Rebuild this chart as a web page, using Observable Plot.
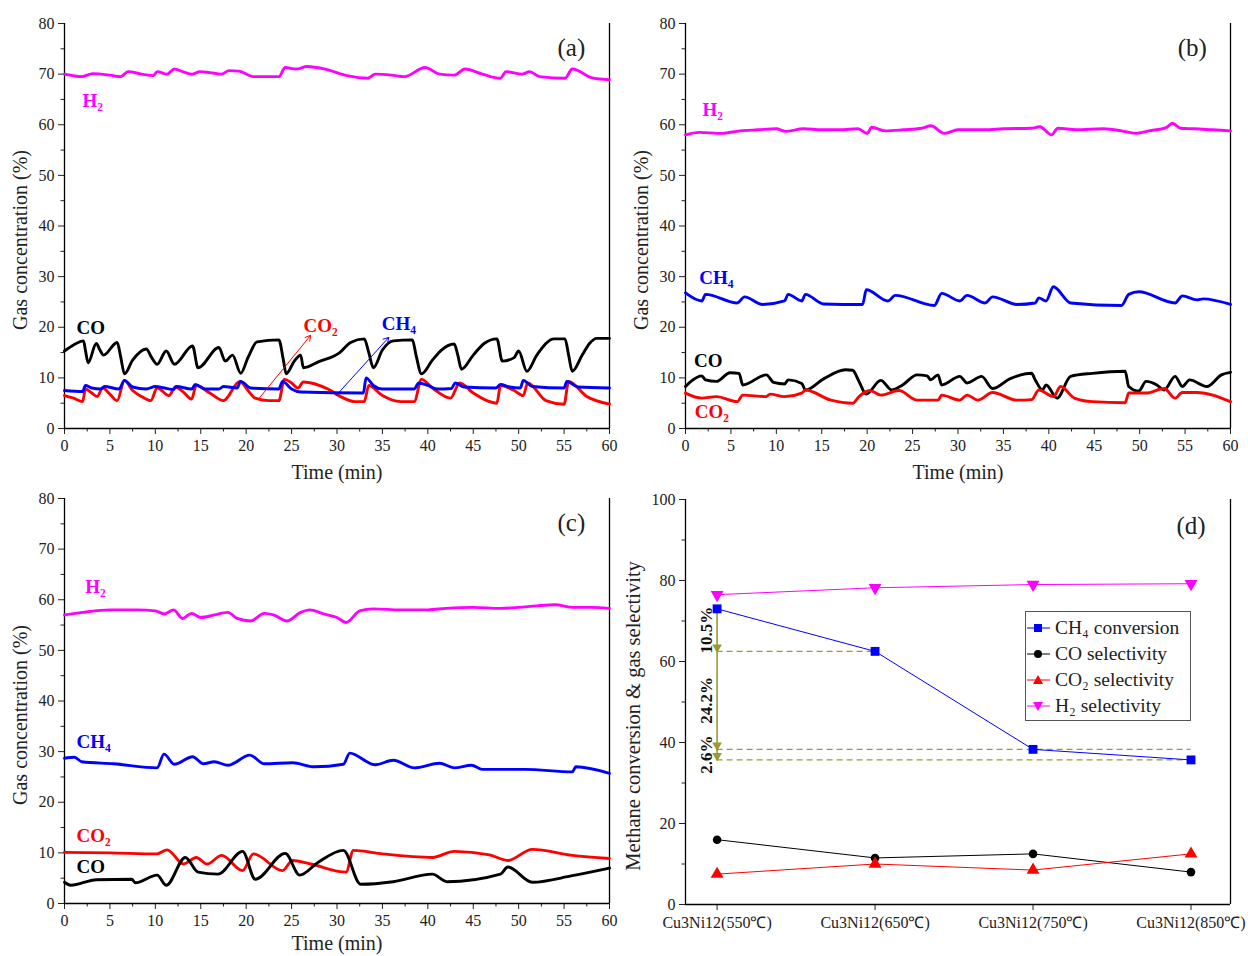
<!DOCTYPE html>
<html><head><meta charset="utf-8">
<script src="https://cdn.jsdelivr.net/npm/d3@7"></script>
<script src="https://cdn.jsdelivr.net/npm/@observablehq/plot@0.6"></script>
<style>
body{margin:0;background:#fff;}
#wrap{position:relative;width:1248px;height:956px;background:#fff;font-family:"Liberation Serif","Times New Roman",serif;overflow:hidden;}
.panel{position:absolute;}
#legend{position:absolute;left:1025px;top:611px;width:166px;height:110px;border:1px solid #555;box-sizing:border-box;background:#fff;padding-top:3px;}
.row{display:flex;align-items:center;height:26px;font-size:19.5px;color:#222;white-space:nowrap;}
.row svg{margin-right:3px;flex:none;}
</style></head><body><div id="wrap"></div>
<script>
// ---------- Panel (a) : time series, [time (min), concentration (%)] ----------
const a_H2 = [[0,70],[1.9,69.5],[3.1,70.1],[5,69.8],[6.2,69.5],[7,70.5],[8.5,70],[9.8,69.7],[10.2,70.5],[11.3,70],[12.1,71],[13,70.5],[14.1,70],[14.9,70.5],[16,70.3],[17.3,70],[18.1,70.7],[19.2,70.6],[20.8,69.5],[23.6,69.5],[24.3,71.3],[25.5,71],[26.7,71.5],[28.7,71],[31.1,69.7],[33.4,69.2],[34.2,70],[36,69.8],[37.4,69.5],[39.7,71.3],[41.3,70],[42.9,69.8],[44.1,71],[46,70],[48,69.2],[48.6,70.5],[50.4,70],[51.2,70.5],[52.3,69.5],[55.1,69.2],[55.9,71],[58.2,69.2],[60,68.9]];
const a_CO = [[0,15.3],[1,16.5],[2.1,17.3],[2.3,15.5],[2.6,13],[3.5,16.8],[3.9,15.5],[4.3,14.5],[5.8,17],[6.2,14],[6.6,10.8],[7.5,13.5],[9,15.7],[9.6,14],[10.2,12.7],[11.2,15.3],[12.1,12.7],[14.1,16.3],[14.7,12],[17,16],[17.7,13.3],[18.5,14.5],[19.4,10.9],[20.2,14],[21.2,17.1],[23.6,17.5],[24.1,13.5],[24.4,10.8],[25.3,13.3],[26,14.5],[26.3,12],[28,13.2],[30.3,15],[31.5,17],[33,17.7],[33.5,15],[34,12],[35,15.5],[36.2,17.3],[38.3,17.5],[38.7,14.5],[39.3,10.8],[40.5,13.5],[41.5,15.5],[42.9,16.7],[43.3,14.5],[43.7,11.7],[45,14.5],[46.2,16.8],[47.6,17.7],[48.2,13.3],[49.5,14],[50,15.3],[50.9,11.3],[52,14.5],[53.9,17.7],[55.1,17.7],[55.5,14.5],[55.9,11.3],[57,14.5],[57.8,16.8],[58.6,17.8],[60,17.8]];
const a_CO2 = [[0,6.5],[1,6],[2,5.3],[2.3,7.8],[3,7],[3.6,6.3],[4.2,8],[5,6.8],[5.8,5.5],[6.6,9.5],[7.5,7.5],[8.5,6.3],[9.5,5.5],[10.2,8],[11.5,6.5],[12.2,8.2],[13.2,7],[14,5.8],[14.5,8.5],[16,7],[17.5,5.5],[19.3,9.3],[20.2,7.5],[21,6],[22.5,5.5],[23.6,5.5],[24.2,9.7],[25,9],[25.7,8],[26.3,9.2],[29,7.8],[30.5,6.2],[32,5.3],[33,5.3],[33.5,8.5],[35,6.5],[37,5.3],[38.5,5.3],[39.3,9.7],[40.5,8],[42.5,6],[43.5,9],[45,7],[46.5,5.5],[47.6,5],[48,8.5],[49.5,7.5],[50.5,6.5],[51,9],[53,5.5],[55,4.8],[55.5,9.3],[57.5,6.3],[60,4.8]];
const a_CH4 = [[0,7.5],[2,7.3],[2.3,8.5],[3,8],[4,7.8],[4.4,8.3],[6,7.8],[6.6,9.5],[7.5,8.2],[9,7.8],[10,8.3],[11,8],[12,7.7],[12.3,8.3],[14,7.8],[14.4,8.7],[15.5,7.8],[17,7.8],[17.5,8.3],[19,8],[19.4,9.3],[20.5,8],[23.6,7.8],[24,9.3],[25,7.8],[26,7.2],[32.9,7],[33.2,10],[34,8.5],[35,7.8],[38.5,7.8],[39,9],[40,8.5],[41,7.8],[42.6,7.9],[43,9],[44,8.2],[47.5,8],[48,8.7],[49,8.2],[50.2,8],[50.5,9.5],[51.5,8.3],[55,8],[55.3,9.3],[56.5,8.2],[60,8]];
// annotation arrows in (a): [t1, v1, t2, v2]
const a_arrowCO2 = [21.4, 5.9, 27.1, 18.4];
const a_arrowCH4 = [29.9, 6.5, 35.7, 18.0];

// ---------- Panel (b) ----------
const b_H2 = [[0,58],[1.5,58.5],[4,58.3],[6,58.8],[8,59],[10,59.2],[11,58.7],[13,59.2],[15,59],[17,59],[19,59.2],[20,58.3],[20.5,59.5],[22,58.8],[24,59],[26,59.3],[27,59.8],[28.5,58.3],[30,59],[33,59],[35,59.2],[38,59.3],[39,59.6],[40.3,58],[41,59.3],[43,59],[46,59.2],[48,58.8],[49.5,58.3],[51,58.8],[53,59.5],[53.6,60.3],[54.5,59.3],[56,59.2],[58,59],[60,58.8]];
const b_CH4 = [[0,26.8],[1.8,25.2],[2.2,26.5],[5.7,24.8],[6.5,26],[8.5,24.5],[10.9,25.2],[11.3,26.5],[12.8,25.2],[13.2,26.5],[15.2,24.6],[19.5,24.5],[19.9,27.4],[22.3,25.2],[23.1,26.3],[27.4,24.3],[28.2,26.7],[30.2,25.2],[31,26.3],[33,24.8],[33.8,26],[36.5,24.5],[38.5,24.8],[38.9,25.8],[39.7,25.2],[40.5,28],[42.4,24.8],[48,24.3],[48.8,26.5],[49.9,27],[53.9,24.8],[54.7,26.2],[56.3,25.4],[57,25.6],[60,24.5]];
const b_CO = [[0,8.3],[0.6,9.3],[1.8,10.4],[2.2,9.6],[3.4,9.3],[4.9,11],[5.9,10.9],[6.3,8.6],[8.9,10.6],[9.7,9.1],[10.9,8.8],[11.3,9.6],[12.8,8.9],[13.2,7.6],[15.2,9.8],[17.6,11.6],[18.4,11.5],[19.1,9.3],[19.9,6.8],[21.5,9.5],[22.7,7.6],[23.9,8.6],[25.5,10.6],[26.6,10.4],[27,9.6],[27.8,10.6],[28.2,8.6],[30.2,10.3],[31,9],[32.6,10.3],[33.8,7.9],[35.7,9.8],[38.1,10.9],[38.5,9.6],[39.3,7.6],[39.7,8.6],[40.9,6],[42.4,10.3],[44.8,10.9],[48.4,11.3],[48.8,8.3],[49.9,7.4],[50.7,9.3],[51.9,8.6],[52.7,7.6],[53.9,10.3],[54.7,8.3],[55.5,9.6],[57.4,8.3],[59,10.6],[60,11.1]];
const b_CO2 = [[0,7],[1.8,6],[3.4,6.3],[5.7,5.3],[6.3,6.6],[8.9,6.3],[9.3,6.8],[10.9,6.3],[12.8,7],[13.2,7.6],[16,5.6],[18.4,5],[19.1,6.3],[20.3,7.5],[21.5,6.6],[23.5,7.5],[25.5,5.6],[27.8,5.6],[28.2,6.6],[30.2,5.6],[31,6.6],[32.2,5.6],[33.8,7.1],[36.5,5.6],[38.1,5.7],[38.9,7.6],[40.5,6.3],[41.3,8.3],[42.8,6],[44.8,5.3],[48.4,5.1],[48.8,7],[50.7,7],[52.7,7.9],[53.9,6],[54.7,7.1],[56.3,7.1],[60,5.3]];

// ---------- Panel (c) ----------
const c_H2 = [[0,57],[2,57.5],[5,58],[8,58],[10,57.8],[11,57.2],[12,58],[13,56.3],[14,57.3],[15,56.5],[16.5,57],[18,57.5],[19,56.3],[20.5,55.8],[22,57.3],[23,57],[24.5,55.8],[26,57.5],[27,58],[28.5,57.2],[30,56.5],[31,55.5],[32.5,57.8],[34,58.2],[37,58],[40,58],[42,58.3],[45,58.5],[48,58.3],[50,58.5],[52,58.8],[54,59],[56,58.5],[58,58.5],[60,58.3]];
const c_CH4 = [[0,28.7],[1.1,28.9],[1.9,28],[5.4,27.6],[10.2,26.8],[10.95,29.5],[12.1,27.5],[14.1,29],[15.3,27.6],[16.5,28],[18,27.3],[20.4,29.3],[22,27.6],[25.1,27.8],[27.5,27],[30.7,27.5],[31.4,29.7],[34.2,27.4],[36.2,28.3],[38.5,26.8],[41.3,27.7],[42.9,26.8],[44.8,27.3],[46,26.5],[50.7,26.5],[55.9,26],[56.3,27],[60,25.7]];
const c_CO2 = [[0,10.1],[5,10],[10.2,9.8],[11.3,10.6],[13.1,7.8],[14.5,9.1],[15.7,7.8],[17.3,9.5],[19.6,6.5],[20.8,9.8],[24,6.5],[25.1,8.5],[27.1,7.8],[31,6.2],[31.8,10.5],[35,9.8],[40.5,9.1],[42.9,10.3],[46.8,9.6],[48.8,8.5],[51.5,10.7],[55.9,9.5],[60,8.9]];
const c_CO = [[0,4.2],[0.7,3.6],[3.5,4.7],[7.4,4.8],[7.8,4.1],[10.2,5.6],[11.2,3.6],[13.3,9.1],[14.7,6.2],[16.9,5.8],[19.6,10.3],[21,4.8],[24.3,9.9],[25.9,5.6],[27.9,8.1],[30.7,10.5],[32.6,3.8],[36.2,4.3],[40.5,5.8],[42.1,4.3],[48,5.8],[48.8,7.2],[51.5,4.2],[55.9,5.5],[60,7]];

// ---------- Panel (d) ----------
const d_cats = ["Cu3Ni12(550℃)","Cu3Ni12(650℃)","Cu3Ni12(750℃)","Cu3Ni12(850℃)"];
const d_CH4conv = [73.0, 62.5, 38.3, 35.7];
const d_COsel = [16.0, 11.5, 12.5, 8.0];
const d_CO2sel = [7.5, 10.0, 8.5, 12.5];
const d_H2sel = [76.5, 78.2, 79.0, 79.2];

// ---------- tick labels ----------
const timeTicks = d3.range(0, 61, 5);
const timeMinor = d3.range(2.5, 60, 5);
const concTicks = d3.range(0, 81, 10);
const concMinor = d3.range(5, 80, 10);
const pctTicks = d3.range(0, 101, 20);
const pctMinor = d3.range(10, 100, 20);

const colors = {H2:"#ff00ff", CO:"#000000", CO2:"#ff0000", CH4:"#0000ff"};
const olive = "#9a9a2e";
const FONT = '"Liberation Serif","Times New Roman",serif';
const toRows = pts => pts.map(([t, v]) => ({t, v}));

const wrap = document.getElementById("wrap");
function place(svg, left, top) {
  const d = document.createElement("div");
  d.className = "panel"; d.style.left = left + "px"; d.style.top = top + "px";
  d.appendChild(svg); wrap.appendChild(d);
}

function timePanel(cfg) {
  const marks = [
    Plot.axisY({ticks: concTicks, tickSize: 6, tickPadding: 4, fontSize: 16, label: null}),
    Plot.axisY({ticks: concMinor, tickSize: 3.5, tickFormat: () => "", label: null}),
    Plot.axisX({ticks: timeTicks, tickSize: 6, tickPadding: 5, fontSize: 16, label: null}),
    Plot.axisX({ticks: timeMinor, tickSize: 3.5, tickFormat: () => "", label: null}),
    Plot.ruleX([0, 60], {stroke: "#000", strokeWidth: 1.3}),
    Plot.ruleY([0], {stroke: "#000", strokeWidth: 1.3}),
  ];
  for (const [name, pts] of cfg.series) {
    marks.push(Plot.line(toRows(pts), {x: "t", y: "v", curve: "monotone-x", stroke: colors[name], strokeWidth: 2.9, strokeLinejoin: "round"}));
  }
  for (const [text, name, t, v] of cfg.labels) {
    marks.push(Plot.text([text], {x: () => t, y: () => v, text: d => d, fill: colors[name], fontWeight: "bold", fontSize: 19}));
  }
  for (const [name, a] of (cfg.arrows || [])) {
    marks.push(Plot.arrow([a], {x1: d => d[0], y1: d => d[1], x2: d => d[2], y2: d => d[3], stroke: colors[name], strokeWidth: 1, headLength: 9}));
  }
  marks.push(Plot.text([cfg.tag], {x: () => 55.8, y: () => 75.2, text: d => d, fontSize: 25}));
  marks.push(Plot.text(["Gas concentration (%)"], {frameAnchor: "left", textAnchor: "middle", lineAnchor: "middle", dx: -44, dy: 14, rotate: -90, fontSize: 20}));
  marks.push(Plot.text(["Time (min)"], {frameAnchor: "bottom", textAnchor: "middle", lineAnchor: "middle", dy: cfg.titleDy, fontSize: 20}));
  return Plot.plot({
    width: 624, height: 481, marginLeft: 64, marginRight: 15, marginTop: 23, marginBottom: 53,
    x: {domain: [0, 60]}, y: {domain: [0, 80]},
    style: {fontFamily: FONT, fontSize: "16px", color: "#222", background: "transparent", overflow: "visible"},
    marks
  });
}

place(timePanel({
  series: [["H2", a_H2], ["CO", a_CO], ["CO2", a_CO2], ["CH4", a_CH4]],
  labels: [["H₂", "H2", 3.1, 64.8], ["CO", "CO", 2.9, 19.8], ["CO₂", "CO2", 28.2, 20.3], ["CH₄", "CH4", 36.8, 20.7]],
  arrows: [["CO2", a_arrowCO2], ["CH4", a_arrowCH4]],
  tag: "(a)", titleDy: 44
}), 0, 0);

place(timePanel({
  series: [["H2", b_H2], ["CH4", b_CH4], ["CO", b_CO], ["CO2", b_CO2]],
  labels: [["H₂", "H2", 3.0, 63.0], ["CH₄", "CH4", 3.4, 29.8], ["CO", "CO", 2.5, 13.4], ["CO₂", "CO2", 2.9, 3.2]],
  tag: "(b)", titleDy: 44
}), 621, 0);

place(timePanel({
  series: [["H2", c_H2], ["CH4", c_CH4], ["CO2", c_CO2], ["CO", c_CO]],
  labels: [["H₂", "H2", 3.4, 62.5], ["CH₄", "CH4", 3.2, 31.9], ["CO₂", "CO2", 3.2, 13.4], ["CO", "CO", 2.9, 7.3]],
  tag: "(c)", titleDy: 40
}), 0, 475);

// ---------- panel (d) ----------
(function () {
  const rows = vals => vals.map((v, i) => ({i, v}));
  const dashes = [{v: d_CH4conv[1], x2: 1}, {v: d_CH4conv[2], x2: 3}, {v: d_CH4conv[3], x2: 3}];
  const segs = d3.range(3).map(k => ({
    y1: d_CH4conv[k], y2: d_CH4conv[k + 1], mid: (d_CH4conv[k] + d_CH4conv[k + 1]) / 2,
    label: (d_CH4conv[k] - d_CH4conv[k + 1]).toFixed(1) + "%"
  }));
  const svg = Plot.plot({
    width: 624, height: 478, marginLeft: 64, marginRight: 15, marginTop: 23, marginBottom: 50,
    x: {domain: [-0.2, 3.25]}, y: {domain: [0, 100]},
    style: {fontFamily: FONT, fontSize: "16px", color: "#222", background: "transparent", overflow: "visible"},
    marks: [
      Plot.axisY({ticks: pctTicks, tickSize: 6, tickPadding: 4, fontSize: 16, label: null}),
      Plot.axisY({ticks: pctMinor, tickSize: 3.5, tickFormat: () => "", label: null}),
      Plot.axisX({ticks: [0, 1, 2, 3], tickSize: 6, tickPadding: 6, fontSize: 16, tickFormat: i => d_cats[i], label: null}),
      Plot.ruleX([-0.2, 3.25], {stroke: "#000", strokeWidth: 1.3}),
      Plot.ruleY([0], {stroke: "#000", strokeWidth: 1.3}),
      Plot.ruleY(dashes, {y: "v", x1: () => 0, x2: "x2", stroke: olive, strokeWidth: 1.2, strokeDasharray: "6,4"}),
      Plot.ruleX(segs, {x: () => 0, y1: "y1", y2: "y2", stroke: olive, strokeWidth: 1.6}),
      Plot.dot(segs, {x: () => 0, y: "y2", dy: -4, symbol: "triangle", rotate: 180, r: 3.6, fill: olive}),
      Plot.text(segs, {x: () => 0, y: "mid", text: "label", rotate: -90, dx: -11, fontWeight: "bold", fontSize: 17, fill: "#111"}),
      Plot.line(rows(d_H2sel), {x: "i", y: "v", stroke: colors.H2, strokeWidth: 1}),
      Plot.line(rows(d_CH4conv), {x: "i", y: "v", stroke: colors.CH4, strokeWidth: 1}),
      Plot.line(rows(d_COsel), {x: "i", y: "v", stroke: colors.CO, strokeWidth: 1}),
      Plot.line(rows(d_CO2sel), {x: "i", y: "v", stroke: colors.CO2, strokeWidth: 1}),
      Plot.dot(rows(d_H2sel), {x: "i", y: "v", symbol: "triangle", rotate: 180, r: 4.8, fill: colors.H2}),
      Plot.dot(rows(d_CH4conv), {x: "i", y: "v", symbol: "square", r: 5, fill: colors.CH4}),
      Plot.dot(rows(d_COsel), {x: "i", y: "v", symbol: "circle", r: 4.3, fill: colors.CO}),
      Plot.dot(rows(d_CO2sel), {x: "i", y: "v", symbol: "triangle", r: 4.8, fill: colors.CO2}),
      Plot.text(["(d)"], {x: () => 3, y: () => 93.5, text: d => d, fontSize: 25}),
      Plot.text(["Methane conversion & gas selectivity"], {frameAnchor: "left", textAnchor: "middle", lineAnchor: "middle", dx: -52, dy: 14, rotate: -90, fontSize: 20.5})
    ]
  });
  place(svg, 621, 476);

  // legend
  const items = [["CH₄ conversion", colors.CH4, "square"], ["CO selectivity", colors.CO, "circle"], ["CO₂ selectivity", colors.CO2, "triangle"], ["H₂ selectivity", colors.H2, "tri-down"]];
  const lg = document.createElement("div"); lg.id = "legend";
  for (const [label, col, sym] of items) {
    const r = document.createElement("div"); r.className = "row";
    let shape;
    if (sym === "square") shape = `<rect x="8" y="3" width="8" height="8" fill="${col}"/>`;
    else if (sym === "circle") shape = `<circle cx="12" cy="7" r="4" fill="${col}"/>`;
    else if (sym === "triangle") shape = `<path d="M12 2 L17 11 L7 11 Z" fill="${col}"/>`;
    else shape = `<path d="M12 12 L17 3 L7 3 Z" fill="${col}"/>`;
    r.innerHTML = `<svg width="26" height="14"><line x1="1" y1="7" x2="24" y2="7" stroke="${col}" stroke-width="1"/>${shape}</svg><span>${label}</span>`;
    lg.appendChild(r);
  }
  wrap.appendChild(lg);
})();
</script></body></html>
